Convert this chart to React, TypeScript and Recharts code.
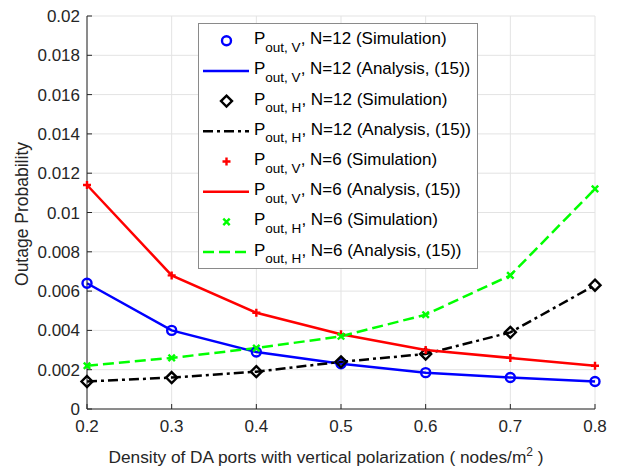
import { LineChart, Line, XAxis, YAxis, CartesianGrid } from 'recharts';

// density of DA ports with vertical polarization (nodes/m^2)
const DENSITY = [0.2, 0.3, 0.4, 0.5, 0.6, 0.7, 0.8];

// outage probabilities (simulation and analysis overlap)
const POUT_V_N12 = [0.0064, 0.004, 0.0029, 0.0023, 0.00185, 0.0016, 0.0014];
const POUT_H_N12 = [0.0014, 0.0016, 0.0019, 0.0024, 0.0028, 0.0039, 0.0063];
const POUT_V_N6 = [0.0114, 0.0068, 0.0049, 0.0038, 0.003, 0.0026, 0.0022];
const POUT_H_N6 = [0.0022, 0.0026, 0.0031, 0.0037, 0.0048, 0.0068, 0.0112];

const Y_TICKS = [0, 0.002, 0.004, 0.006, 0.008, 0.01, 0.012, 0.014, 0.016, 0.018, 0.02];

const FONT = '"Liberation Sans", Arial, Helvetica, sans-serif';
const AXIS_COLOR = '#262626';

const data = DENSITY.map((x, i) => ({
  x,
  v12: POUT_V_N12[i],
  h12: POUT_H_N12[i],
  v6: POUT_V_N6[i],
  h6: POUT_H_N6[i],
}));

type Shape = 'circle' | 'diamond' | 'plus' | 'cross';

const SERIES = [
  { key: 'v12', color: '#0000ff', dash: undefined, marker: 'circle' as Shape, sub: 'out, V', n: 'N=12' },
  { key: 'h12', color: '#000000', dash: '10 4 3 4', marker: 'diamond' as Shape, sub: 'out, H', n: 'N=12' },
  { key: 'v6', color: '#ff0000', dash: undefined, marker: 'plus' as Shape, sub: 'out, V', n: 'N=6' },
  { key: 'h6', color: '#00ff00', dash: '11 5', marker: 'cross' as Shape, sub: 'out, H', n: 'N=6' },
];

function Marker({ shape, cx, cy, color }: { shape: Shape; cx: number; cy: number; color: string }) {
  const sw = 2.4;
  if (shape === 'circle') {
    return <circle cx={cx} cy={cy} r={4.5} fill="none" stroke={color} strokeWidth={sw} />;
  }
  if (shape === 'diamond') {
    const d = 5.5;
    return (
      <path
        d={`M${cx},${cy - d} L${cx + d},${cy} L${cx},${cy + d} L${cx - d},${cy} Z`}
        fill="none"
        stroke={color}
        strokeWidth={sw}
      />
    );
  }
  if (shape === 'plus') {
    const d = 4;
    return (
      <path d={`M${cx - d},${cy} L${cx + d},${cy} M${cx},${cy - d} L${cx},${cy + d}`} stroke={color} strokeWidth={sw} />
    );
  }
  const d = 3.2;
  return (
    <path
      d={`M${cx - d},${cy - d} L${cx + d},${cy + d} M${cx - d},${cy + d} L${cx + d},${cy - d}`}
      stroke={color}
      strokeWidth={sw}
    />
  );
}

function XLabel() {
  return (
    <text x={326} y={463} textAnchor="middle" fontSize={17.3} fill={AXIS_COLOR} fontFamily={FONT}>
      Density of DA ports with vertical polarization ( nodes/m
      <tspan dy={-7} fontSize={12}>2</tspan>
      <tspan dy={7}> )</tspan>
    </text>
  );
}

function YLabel() {
  return (
    <text
      x={22}
      y={214}
      transform="rotate(-90 22 214)"
      textAnchor="middle"
      dominantBaseline="central"
      fontSize={17.5}
      fill={AXIS_COLOR}
      fontFamily={FONT}
    >
      Outage Probability
    </text>
  );
}

function LegendBox() {
  const rows = SERIES.flatMap((s) => [
    { s, kind: 'sim', label: `${s.n} (Simulation)` },
    { s, kind: 'ana', label: `${s.n} (Analysis, (15))` },
  ]);
  return (
    <svg width={618} height={471} style={{ position: 'absolute', left: 0, top: 0, pointerEvents: 'none' }}>
      <rect x={198.5} y={23.5} width={279} height={245} fill="#ffffff" stroke="#8a8a8a" strokeWidth={1} />
      {rows.map((r, i) => {
        const cy = 40.7 + i * 30.2;
        return (
          <g key={i}>
            {r.kind === 'sim' ? (
              <Marker shape={r.s.marker} cx={226.5} cy={cy} color={r.s.color} />
            ) : (
              <line x1={203} y1={cy} x2={249} y2={cy} stroke={r.s.color} strokeWidth={2.5} strokeDasharray={r.s.dash} />
            )}
            <text x={254} y={cy + 3.5} fontSize={17} fill="#000" fontFamily={FONT}>
              P
              <tspan dy={7.5} fontSize={13.5}>
                {r.s.sub}
              </tspan>
              <tspan dy={-7.5}>{', ' + r.label}</tspan>
            </text>
          </g>
        );
      })}
    </svg>
  );
}

export default function App() {
  return (
    <div style={{ position: 'absolute', left: 0, top: 0, width: 618, height: 471, background: '#ffffff' }}>
      <LineChart width={618} height={471} data={data} margin={{ top: 16, right: 23, left: 0, bottom: 0 }}>
        <CartesianGrid stroke="#e3e3e3" strokeWidth={1} />
        <XAxis
          dataKey="x"
          type="number"
          domain={[0.2, 0.8]}
          ticks={DENSITY}
          height={62}
          tickLine={{ stroke: AXIS_COLOR }}
          tickSize={-5}
          tickMargin={16}
          axisLine={{ stroke: AXIS_COLOR }}
          tick={{ fill: AXIS_COLOR, fontSize: 17, fontFamily: FONT }}
          tickFormatter={(v: number) => String(v)}
          label={{ content: () => <XLabel /> }}
        />
        <XAxis
          xAxisId="top"
          orientation="top"
          dataKey="x"
          type="number"
          domain={[0.2, 0.8]}
          ticks={DENSITY}
          height={0}
          tick={false}
          tickLine={false}
          axisLine={{ stroke: AXIS_COLOR }}
        />
        <YAxis
          type="number"
          domain={[0, 0.02]}
          ticks={Y_TICKS}
          width={87}
          tickLine={{ stroke: AXIS_COLOR }}
          tickSize={-5}
          tickMargin={12}
          axisLine={{ stroke: AXIS_COLOR }}
          tick={{ fill: AXIS_COLOR, fontSize: 17, fontFamily: FONT }}
          tickFormatter={(v: number) => String(+v.toFixed(3))}
          label={{ content: () => <YLabel /> }}
        />
        <YAxis
          yAxisId="right"
          orientation="right"
          type="number"
          domain={[0, 0.02]}
          ticks={Y_TICKS}
          width={0}
          tick={false}
          tickLine={false}
          axisLine={{ stroke: AXIS_COLOR }}
        />
        {SERIES.flatMap((s) => [
          <Line
            key={s.key + '-sim'}
            dataKey={s.key}
            stroke="none"
            isAnimationActive={false}
            dot={(p: any) => <Marker key={`${s.key}-m-${p.index}`} shape={s.marker} cx={p.cx} cy={p.cy} color={s.color} />}
            activeDot={false}
          />,
          <Line
            key={s.key + '-ana'}
            dataKey={s.key}
            type="linear"
            stroke={s.color}
            strokeWidth={2.5}
            strokeDasharray={s.dash}
            dot={false}
            activeDot={false}
            isAnimationActive={false}
          />,
        ])}
      </LineChart>
      <LegendBox />
    </div>
  );
}
